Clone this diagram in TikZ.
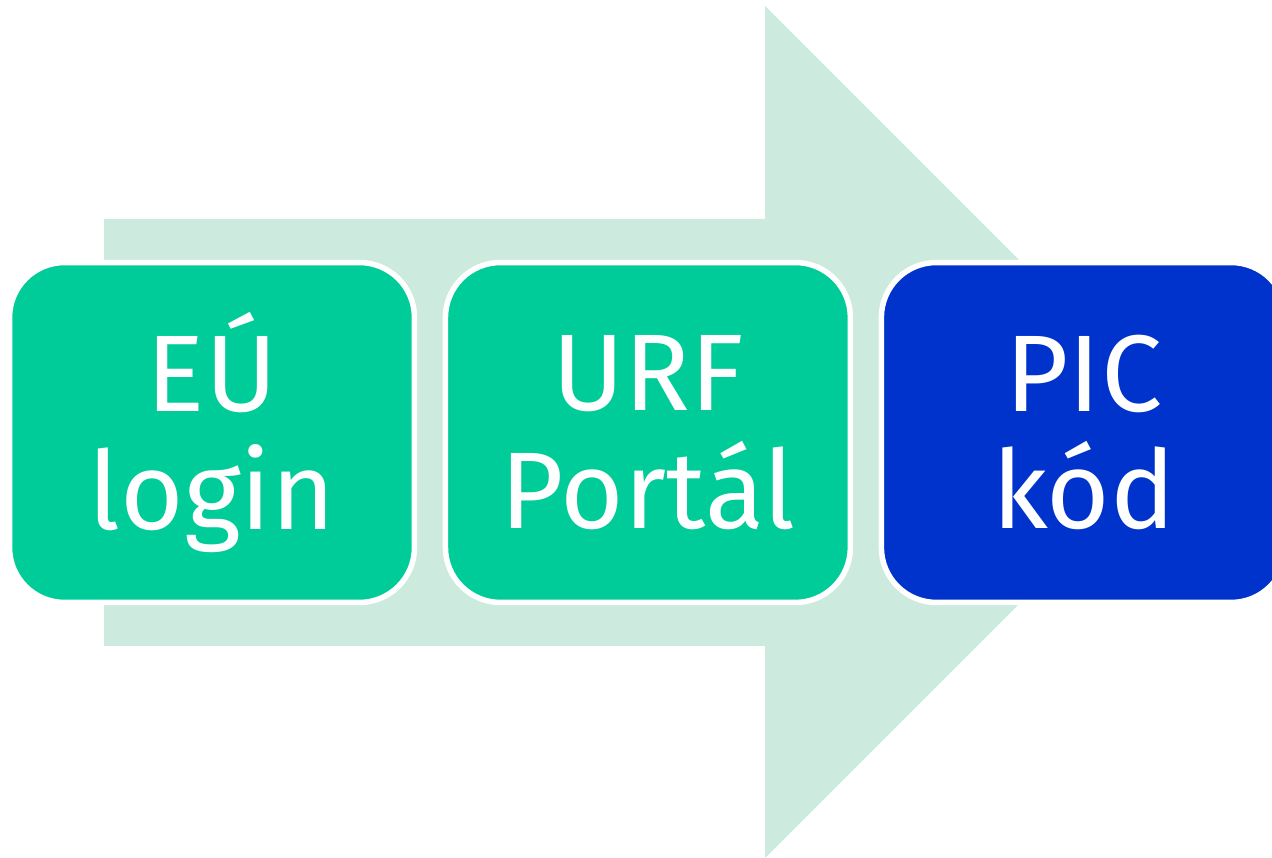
\documentclass[tikz,border=0pt]{standalone}
\usepackage{fontspec}
\setmainfont{Fira Sans}
\usepackage{tikz}
\usetikzlibrary{positioning}

\definecolor{stagegreen}{HTML}{00CC99}
\definecolor{stageblue}{HTML}{0033CC}
\definecolor{arrowbg}{HTML}{CCEBDE}

\begin{document}
\begin{tikzpicture}[x=0.02cm, y=0.02cm,
node distance=8.72cm,
font=\fontsize{62}{67}\selectfont]
\tikzstyle{stage}=[rectangle, rounded corners=1.1cm,
 minimum width=8.1cm, minimum height=6.8cm, inner sep=0pt,
 draw=white, line width=0.11cm, text=white, align=center]

\useasboundingbox (0,0) rectangle (1272,858);
\clip (0,0) rectangle (1272,858);

%background arrow
\fill[arrowbg] (104,212) -- (765,212) -- (765,0) -- (1191,426)
  -- (765,852) -- (765,639) -- (104,639) -- cycle;

\node[stage, fill=stagegreen] (EU) at (212,425.5) {EÚ\\login};

\node[stage, fill=stagegreen, right of=EU] (URF) {URF\\Portál};

\node[stage, fill=stageblue, right of=URF] (PIC) {PIC\\kód};

\end{tikzpicture}
\end{document}
